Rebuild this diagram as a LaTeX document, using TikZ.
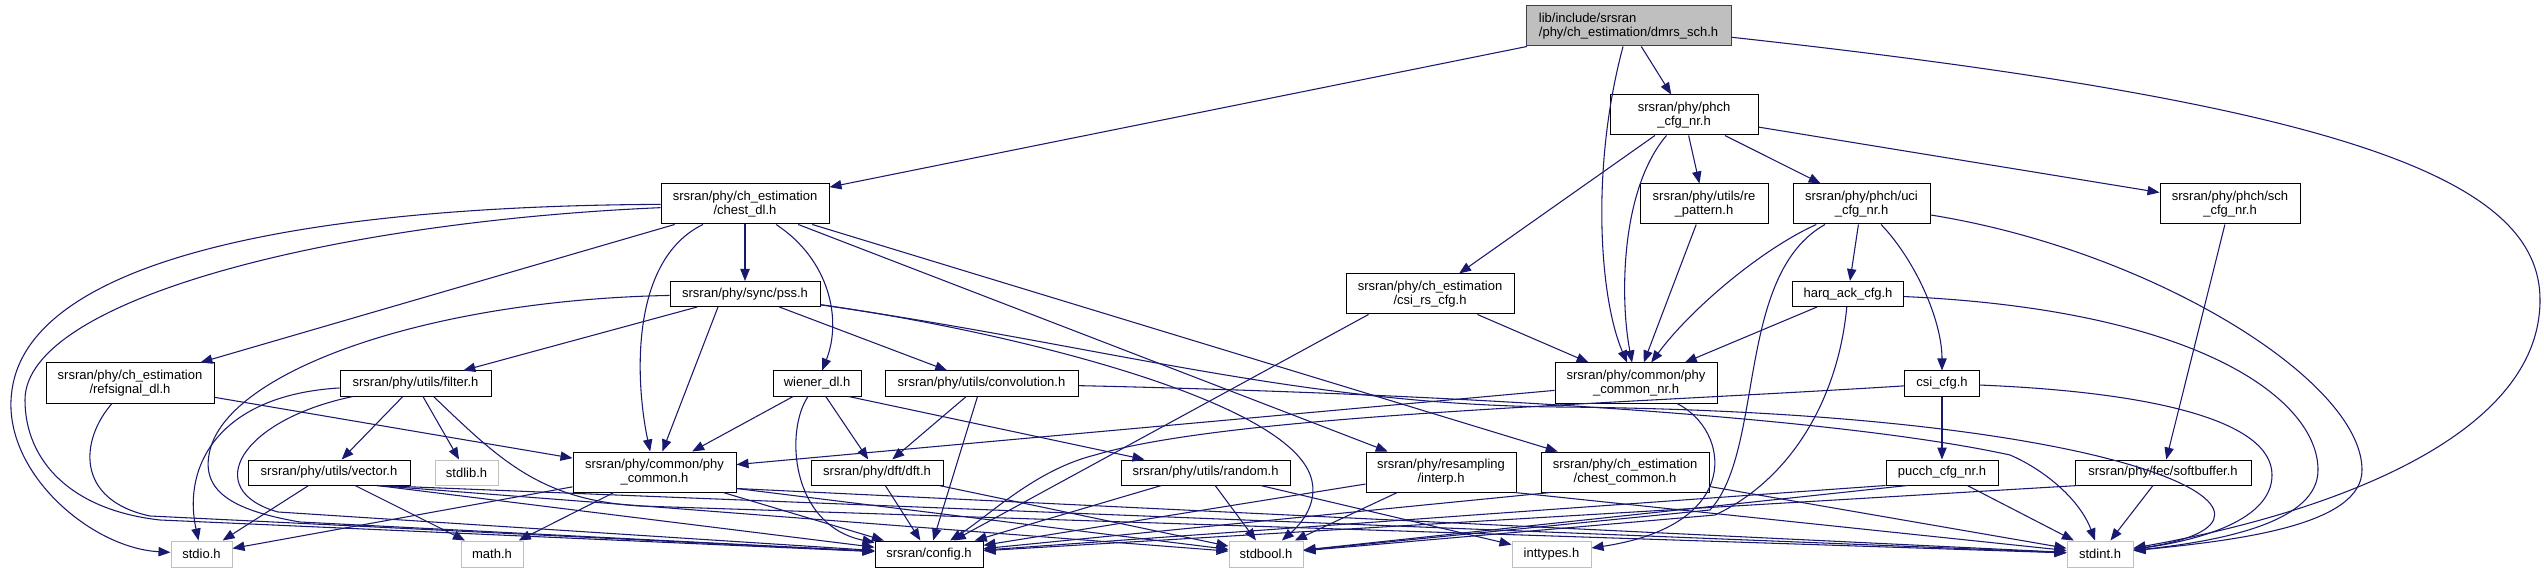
\documentclass[tikz,border=0pt]{standalone}
\usepackage{fontspec}
\setmainfont{Liberation Sans}
\usetikzlibrary{arrows.meta,calc}
\definecolor{edgeblue}{HTML}{191970}
\definecolor{sysgray}{HTML}{BFBFBF}
\definecolor{rootborder}{HTML}{404040}
\tikzset{
  bw/.style={minimum width=#1*0.75pt},
  bh/.style={minimum height=#1*0.75pt},
  nd/.style={draw=black, line width=0.75pt, fill=white, inner sep=0pt, align=center,
    font=\fontsize{9.75pt}{10pt}\selectfont, minimum height=19.5pt},
  sysnd/.style={nd, draw=sysgray},
  rootnd/.style={nd, fill=sysgray, draw=rootborder, align=left},
  e/.style={draw=edgeblue, line width=0.8pt, -{Triangle[length=9pt,width=7pt]}},
}
\begin{document}
\begin{tikzpicture}[x=0.75pt,y=-0.75pt]
\fill[white] (0,0) rectangle (2544,573);
\path[use as bounding box] (0,0) rectangle (2544,573);

% nodes
\node[rootnd,bw=205,bh=40] (root) at (1628.5,26) {lib/include/srsran\\/phy/ch\_estimation/dmrs\_sch.h};
\node[nd,bw=148,bh=40] (phch) at (1684,115) {srsran/phy/phch\\\_cfg\_nr.h};
\node[nd,bw=168,bh=40] (chestdl) at (745,204) {srsran/phy/ch\_estimation\\/chest\_dl.h};
\node[nd,bw=128,bh=40] (repat) at (1704,204) {srsran/phy/utils/re\\\_pattern.h};
\node[nd,bw=137,bh=40] (uci) at (1861.5,204) {srsran/phy/phch/uci\\\_cfg\_nr.h};
\node[nd,bw=140,bh=40] (sch) at (2230,204) {srsran/phy/phch/sch\\\_cfg\_nr.h};
\node[nd,bw=168,bh=40] (csirs) at (1430,294) {srsran/phy/ch\_estimation\\/csi\_rs\_cfg.h};
\node[nd,bw=150,bh=25] (pss) at (745,294) {srsran/phy/sync/pss.h};
\node[nd,bw=111,bh=25] (harq) at (1848,294) {harq\_ack\_cfg.h};
\node[nd,bw=168,bh=40] (refsig) at (130,383) {srsran/phy/ch\_estimation\\/refsignal\_dl.h};
\node[nd,bw=162,bh=40] (pcnr) at (1636,383) {srsran/phy/common/phy\\\_common\_nr.h};
\node[nd,bw=151,bh=25] (filter) at (415.5,383.5) {srsran/phy/utils/filter.h};
\node[nd,bw=88,bh=25] (wiener) at (817,383.5) {wiener\_dl.h};
\node[nd,bw=193,bh=25] (conv) at (981.5,383.5) {srsran/phy/utils/convolution.h};
\node[nd,bw=75,bh=25] (csicfg) at (1942,383.5) {csi\_cfg.h};
\node[nd,bw=163,bh=40] (pc) at (654.5,472) {srsran/phy/common/phy\\\_common.h};
\node[nd,bw=162,bh=25] (vector) at (329,472.5) {srsran/phy/utils/vector.h};
\node[sysnd,bw=63,bh=25] (stdlib) at (466.5,472.5) {stdlib.h};
\node[nd,bw=132,bh=25] (dft) at (877,472.5) {srsran/phy/dft/dft.h};
\node[nd,bw=169,bh=25] (random) at (1205.5,472.5) {srsran/phy/utils/random.h};
\node[nd,bw=150,bh=40] (interp) at (1441,472) {srsran/phy/resampling\\/interp.h};
\node[nd,bw=168,bh=40] (cc) at (1625,472) {srsran/phy/ch\_estimation\\/chest\_common.h};
\node[nd,bw=112,bh=25] (pucch) at (1942,472.5) {pucch\_cfg\_nr.h};
\node[nd,bw=176,bh=25] (softbuf) at (2163,472.5) {srsran/phy/fec/softbuffer.h};
\node[sysnd,bw=61,bh=26] (stdio) at (201.5,554) {stdio.h};
\node[sysnd,bw=62,bh=26] (math) at (492,554) {math.h};
\node[nd,bw=108,bh=26] (config) at (929,554) {srsran/config.h};
\node[sysnd,bw=74,bh=26] (stdbool) at (1266,554) {stdbool.h};
\node[sysnd,bw=79,bh=26] (inttypes) at (1551.5,554) {inttypes.h};
\node[sysnd,bw=66,bh=26] (stdint) at (2100,554) {stdint.h};

% waypoints
\coordinate (w1) at (2540,300);
\coordinate (w16) at (12,390);
\coordinate (w17) at (25,400);
\coordinate (w17b) at (160,520);
\coordinate (w21) at (210,450);
\coordinate (w21b) at (300,522);
\coordinate (w22) at (1308,470);
\coordinate (w23) at (1560,407);
\coordinate (w27) at (278,512);
\coordinate (w28) at (640,506);
\coordinate (w47) at (2010,455);
\coordinate (wr) at (150,516);
\coordinate (wu) at (1710,510);
\coordinate (wu2) at (2362,470);
\coordinate (wh) at (1715,515);
\coordinate (wh2) at (2318,470);
\coordinate (wc) at (2272,475);
\coordinate (wc2) at (1095,455);

% root
\draw[e] (root) -- (chestdl);
\draw[e] (root) -- (phch);
\draw[e] (root) .. controls (1590,170) and (1600,300) .. (pcnr);
\draw[e] (root) .. controls (2350,105) and (2540,180) .. (w1) .. controls (2540,440) and (2320,515) .. (stdint);

% phch
\draw[e] (phch) -- (csirs);
\draw[e] (phch) .. controls (1620,190) and (1620,300) .. (pcnr);
\draw[e] (phch) -- (repat);
\draw[e] (phch) -- (uci);
\draw[e] (phch) -- (sch);

% chest_dl
\draw[e] (chestdl) -- (refsig);
\draw[e] (chestdl) .. controls (630,260) and (635,380) .. (pc);
\draw[e] (chestdl) -- (pss);
\draw[e] (chestdl) .. controls (830,260) and (842,320) .. (wiener);
\draw[e] (chestdl) -- (interp);
\draw[e] (chestdl) -- (cc);
\draw[e] (chestdl) .. controls (300,206) and (30,260) .. (w16) .. controls (0,470) and (90,548) .. (stdio);
\draw[e] (chestdl) .. controls (330,222) and (25,300) .. (w17) .. controls (25,460) and (70,510) .. (w17b) -- (config);

% pss
\draw[e] (pss) -- (filter);
\draw[e] ($(pss.south)+(-27,0)$) -- (pc);
\draw[e] (pss) -- (conv);
\draw[e] (pss) .. controls (430,300) and (230,370) .. (w21) .. controls (200,490) and (230,510) .. (w21b) -- (config);
\draw[e] (pss) .. controls (1000,330) and (1270,395) .. (w22) .. controls (1323,500) and (1300,525) .. (stdbool);
\draw[e] (pss) .. controls (1100,345) and (1300,405) .. (w23) .. controls (2150,412) and (2330,520) .. (stdint);

% filter
\draw[e] (filter) -- (vector);
\draw[e] (filter) -- (stdlib);
\draw[e] (filter) .. controls (220,395) and (182,465) .. (stdio);
\draw[e] (filter) .. controls (240,420) and (200,490) .. (w27) -- (config);
\draw[e] ($(filter.south)+(18,0)$) .. controls (500,460) and (540,500) .. (w28) -- (stdint);

% vector
\draw[e] (vector) -- (stdio);
\draw[e] (vector) -- (math);
\draw[e] ($(vector.south)+(48,0)$) -- (config);
\draw[e] ($(vector.south)+(48,0)$) -- (stdbool);
\draw[e] ($(vector.south)+(48,0)$) -- (stdint);

% phy_common
\draw[e] (pc) -- (stdio);
\draw[e] (pc) -- (math);
\draw[e] (pc) -- (config);
\draw[e] ($(pc.south east)+(0,-4)$) -- (stdbool);
\draw[e] ($(pc.south east)+(0,-4)$) -- (stdint);

% phy_common_nr
\draw[e] (pcnr) -- (pc);
\draw[e] (pcnr) .. controls (1730,430) and (1745,525) .. (inttypes);

% wiener
\draw[e] (wiener) -- (pc);
\draw[e] (wiener) .. controls (785,430) and (790,525) .. (config);
\draw[e] (wiener) -- (dft);
\draw[e] ($(wiener.south east)+(-13,0)$) -- (random);

% convolution
\draw[e] (conv) -- (dft);
\draw[e] (conv) -- (config);
\draw[e] (conv) .. controls (1500,395) and (1850,420) .. (w47) .. controls (2045,470) and (2080,500) .. (stdint);

% dft, random
\draw[e] (dft) -- (config);
\draw[e] (dft) -- (stdbool);
\draw[e] (random) -- (config);
\draw[e] (random) -- (stdbool);
\draw[e] (random) -- (inttypes);

% interp, chest_common
\draw[e] (interp) -- (config);
\draw[e] (interp) -- (stdbool);
\draw[e] ($(interp.south east)+(-2,0)$) -- (stdint);
\draw[e] ($(cc.south west)+(10,0)$) -- (config);
\draw[e] (cc) -- (stdint);

% csi_rs_cfg
\draw[e] ($(csirs.south west)+(23,0)$) -- (config);
\draw[e] (csirs) -- (pcnr);

% re_pattern
\draw[e] (repat) -- (pcnr);

% uci
\draw[e] (uci) .. controls (1760,250) and (1690,310) .. (pcnr);
\draw[e] (uci) -- (harq);
\draw[e] (uci) .. controls (1915,260) and (1942,320) .. (csicfg);
\draw[e] (uci) .. controls (1735,275) and (1765,450) .. (wu) -- (stdbool);
\draw[e] (uci) .. controls (2150,250) and (2362,380) .. (wu2) .. controls (2362,525) and (2240,540) .. (stdint);

% harq
\draw[e] (harq) -- (pcnr);
\draw[e] (harq) .. controls (1838,400) and (1790,480) .. (wh) -- (stdbool);
\draw[e] (harq) .. controls (2200,310) and (2318,400) .. (wh2) .. controls (2318,520) and (2230,540) .. (stdint);

% csi_cfg
\draw[e] (csicfg) -- (pucch);
\draw[e] (csicfg) .. controls (1600,405) and (1230,415) .. (wc2) .. controls (1035,470) and (990,515) .. (config);
\draw[e] (csicfg) .. controls (2150,392) and (2272,420) .. (wc) .. controls (2272,520) and (2200,540) .. (stdint);

% pucch
\draw[e] (pucch) -- (stdint);
\draw[e] (pucch.south west) -- (config);
\draw[e] ($(pucch.south west)+(22,0)$) -- (stdbool);

% sch, softbuffer
\draw[e] (sch) -- (softbuf);
\draw[e] (softbuf) -- (stdint);
\draw[e] ($(softbuf.south west)+(4,0)$) -- (config);

% refsignal
\draw[e] (refsig) -- (pc);
\draw[e] (refsig) .. controls (80,440) and (75,500) .. (wr) -- (config);
\end{tikzpicture}
\end{document}
